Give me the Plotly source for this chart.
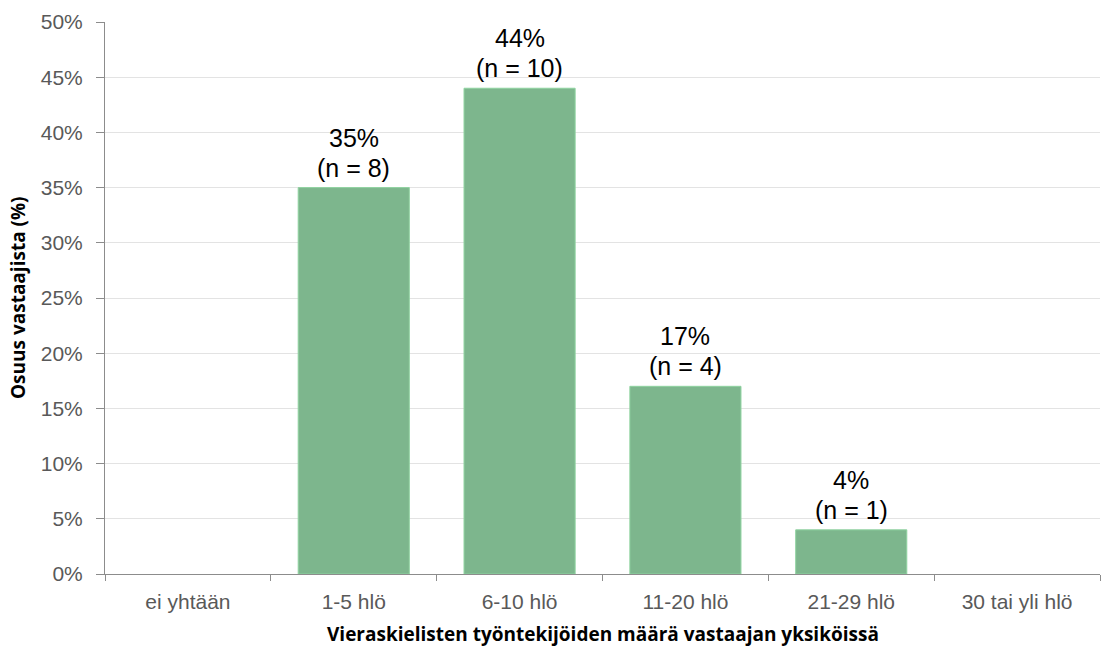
import plotly.graph_objects as go

categories = ["ei yhtään", "1-5 hlö", "6-10 hlö", "11-20 hlö", "21-29 hlö", "30 tai yli hlö"]
shares = [0, 35, 44, 17, 4, 0]          # percent of respondents
counts = [0, 8, 10, 4, 1, 0]            # number of respondents
y_ticks = [0, 5, 10, 15, 20, 25, 30, 35, 40, 45, 50]

LABEL_FONT = dict(family="Liberation Sans, Arial", size=25, color="#000000")
TITLE_FONT = dict(family="Open Sans, Liberation Sans", size=19, color="#000000", weight="bold")

fig = go.Figure(
    go.Bar(
        x=categories,
        y=shares,
        marker=dict(
            color="#7db68d",
            line=dict(color="#8fd3a0", width=[1 if v > 0 else 0 for v in shares]),
        ),
        hoverinfo="skip",
    )
)

# value labels above non-empty bars: percentage on top, respondent count below it
for cat, val, n in zip(categories, shares, counts):
    if n > 0:
        fig.add_annotation(
            x=cat, y=val, text=f"(n = {n})",
            showarrow=False, yanchor="bottom", yshift=4, font=LABEL_FONT,
        )
        fig.add_annotation(
            x=cat, y=val, text=f"{val}%",
            showarrow=False, yanchor="bottom", yshift=34, font=LABEL_FONT,
        )

# axis titles
fig.add_annotation(
    xref="paper", yref="paper", x=0.5, y=0, yanchor="middle", yshift=-60,
    text="Vieraskielisten työntekijöiden määrä vastaajan yksiköissä",
    showarrow=False, font=TITLE_FONT,
)
fig.add_annotation(
    xref="paper", yref="paper", x=0, y=0.5, xanchor="center", xshift=-87,
    text="Osuus vastaajista (%)", textangle=-90,
    showarrow=False, font=TITLE_FONT,
)

fig.update_layout(
    width=1101, height=646,
    margin=dict(l=105, r=1, t=22, b=72),
    paper_bgcolor="white", plot_bgcolor="white",
    bargap=0.33,
    showlegend=False,
    font=dict(family="Liberation Sans, Arial", color="#595959"),
)

fig.update_xaxes(
    type="category",
    tickson="boundaries",
    ticks="outside", ticklen=6, tickcolor="#8c8c8c",
    showline=True, linecolor="#8c8c8c", linewidth=1,
    showgrid=False,
    tickfont=dict(size=21, color="#595959"),
    ticklabelstandoff=9,
)

fig.update_yaxes(
    range=[0, 50],
    tickvals=y_ticks,
    ticktext=[f"{v}%" for v in y_ticks],
    ticks="outside", ticklen=8, tickcolor="#8c8c8c",
    showline=True, linecolor="#8c8c8c", linewidth=1,
    showgrid=True, gridcolor="#e3e3e3", gridwidth=1,
    zeroline=False,
    tickfont=dict(size=21, color="#595959"),
    ticklabelstandoff=9,
)

fig.write_html("out.html")
